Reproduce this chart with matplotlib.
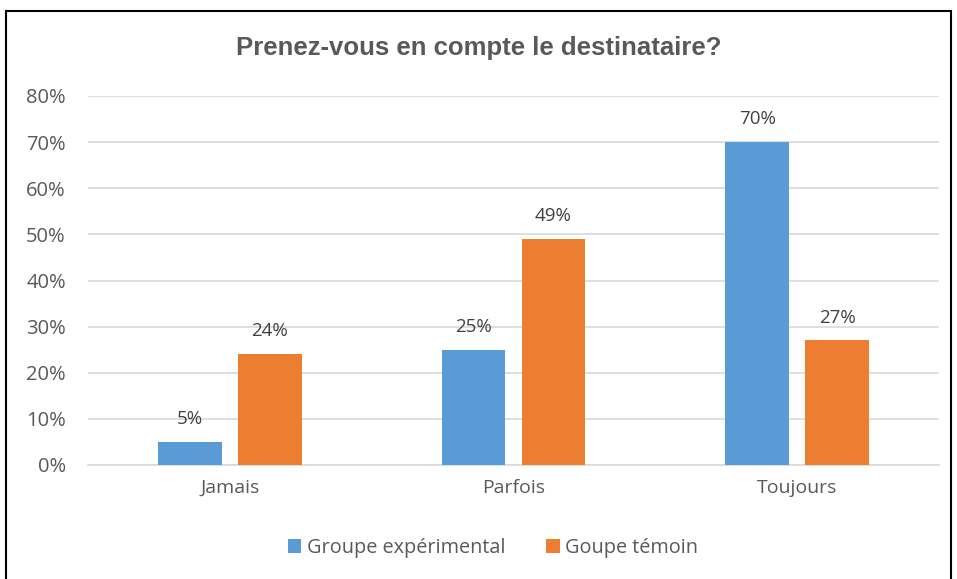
import matplotlib.pyplot as plt
import numpy as np
from matplotlib.patches import Rectangle
from matplotlib.ticker import FuncFormatter

categories = ['Jamais', 'Parfois', 'Toujours']
experimental = [5, 25, 70]
temoin = [24, 49, 27]
series_names = ['Groupe expérimental', 'Goupe témoin']

blue = '#5B9BD5'
orange = '#ED7D31'
grey = '#595959'

plt.rcParams['font.family'] = ['Open Sans', 'DejaVu Sans']

fig = plt.figure(figsize=(9.57, 5.79), dpi=100)
ax = fig.add_axes([88 / 957, 1 - 465 / 579, (939 - 88) / 957, (465 - 96) / 579])

x = np.arange(len(categories))
w = 0.225
off = 0.141
b1 = ax.bar(x - off, experimental, w, color=blue, label=series_names[0], zorder=3)
b2 = ax.bar(x + off, temoin, w, color=orange, label=series_names[1], zorder=3)

for bars, vals in [(b1, experimental), (b2, temoin)]:
    for rect, v in zip(bars, vals):
        ax.text(rect.get_x() + rect.get_width() / 2, v + 3.0, f'{v}%',
                ha='center', va='bottom', fontsize=13.5, color='#404040')

ax.set_xlim(-0.5, 2.5)
ax.set_ylim(0, 80)
ax.set_yticks(range(0, 81, 10))
ax.yaxis.set_major_formatter(FuncFormatter(lambda v, p: f'{int(v)}%'))
ax.set_xticks(x)
ax.set_xticklabels(categories)
ax.tick_params(axis='x', length=0, labelsize=14, labelcolor=grey, pad=10)
ax.tick_params(axis='y', length=0, labelsize=14.5, labelcolor=grey, pad=16)
ax.grid(axis='y', color='#D9D9D9', linewidth=1.2, zorder=0)
for s in ['top', 'right', 'left']:
    ax.spines[s].set_visible(False)
ax.spines['bottom'].set_color('#D9D9D9')
ax.spines['bottom'].set_linewidth(1.2)

fig.text(0.5, 1 - 48 / 579, 'Prenez-vous en compte le destinataire?', ha='center', va='center',
         fontsize=18.5, fontweight='bold', color=grey, family='Liberation Sans')

fig.legend(loc='center', bbox_to_anchor=(493 / 957, 1 - 548 / 579), ncol=2, frameon=False,
           fontsize=14.3, labelcolor=grey, handlelength=0.7, handleheight=0.7,
           handletextpad=0.3, columnspacing=2.0)

fig.patches.append(Rectangle((6 / 957, -0.05), (951 - 6) / 957, (1 - 11 / 579) + 0.05,
                             transform=fig.transFigure, fill=False, edgecolor='black',
                             linewidth=1.5, clip_on=False))

fig.savefig('out.png', dpi=100)
